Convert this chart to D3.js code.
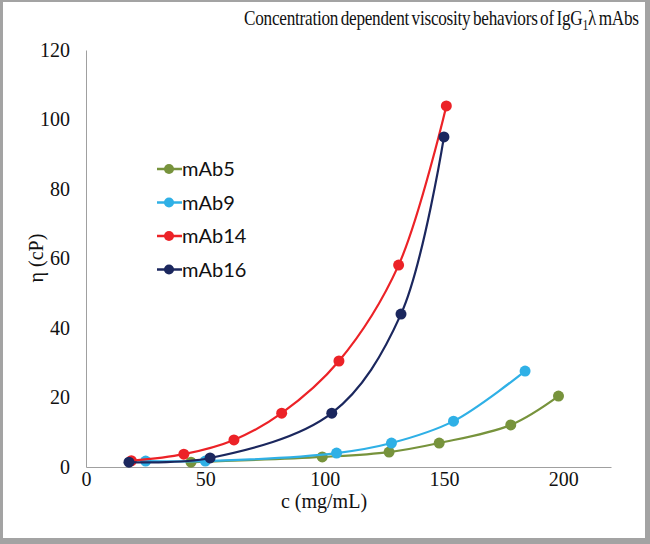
<!DOCTYPE html>
<html><head><meta charset="utf-8">
<script src="https://cdn.jsdelivr.net/npm/d3@7"></script>
<style>body{margin:0;background:#fff}svg{display:block}</style>
</head><body>
<script>
const seriesNames = ["mAb5","mAb9","mAb14","mAb16"];
const seriesColors = ["#77933C","#2FB0E6","#EC2227","#1B275E"];
const mAb5_c = [44, 99, 127, 148, 178, 198];
const mAb5_eta = [1.4, 2.9, 4.3, 6.9, 12.1, 20.4];
const mAb9_c = [25, 50, 105, 128, 154, 184];
const mAb9_eta = [1.7, 1.7, 4.0, 6.9, 13.2, 27.6];
const mAb14_c = [19, 41, 62, 82, 106, 131, 151];
const mAb14_eta = [1.8, 3.7, 7.8, 15.5, 30.5, 58.1, 103.9];
const mAb16_c = [18, 52, 103, 132, 150];
const mAb16_eta = [1.4, 2.6, 15.5, 44.0, 95.0];
const xTicks = [0, 50, 100, 150, 200];
const yTicks = [0, 20, 40, 60, 80, 100, 120];

const W = 650, H = 544;
const svg = d3.select("body").append("svg").attr("width", W).attr("height", H);
svg.append("rect").attr("x",0).attr("y",0).attr("width",W).attr("height",H).attr("fill","#a3a3a3");
svg.append("rect").attr("x",3).attr("y",2).attr("width",W-3-5).attr("height",H-2-6).attr("fill","#fff");

const x = d3.scaleLinear().domain([0, 220]).range([86, 611]);
const y = d3.scaleLinear().domain([0, 120]).range([467, 50]);

const serif = "'Liberation Serif','Times New Roman',serif";
// axes
const xAxis = svg.append("g").attr("transform", "translate(0,467)")
  .call(d3.axisBottom(x).tickValues(xTicks).tickSize(0).tickPadding(5));
const yAxis = svg.append("g").attr("transform", "translate(86,0)")
  .call(d3.axisLeft(y).tickValues(yTicks).tickSize(0).tickPadding(16));
[xAxis, yAxis].forEach(g => {
  g.select(".domain").attr("stroke", "#a0a0a0").attr("stroke-width", 1);
  g.selectAll("text").attr("font-family", serif).attr("font-size", 20).attr("fill", "#111");
});

// title
const title = svg.append("text").attr("transform", "translate(244,25) scale(1,1.2)").attr("font-family", serif)
  .attr("font-size", 19).attr("word-spacing", -1.5).attr("letter-spacing", -0.25).attr("fill","#111")
  .html('Concentration dependent viscosity behaviors of IgG<tspan font-size="13" dy="4">1</tspan><tspan dy="-4">λ mAbs</tspan>');
const tw = title.node().getComputedTextLength();
if (tw > 397) {
  const k = 397 / tw;
  title.attr("font-size", 19 * k);
  title.select("tspan").attr("font-size", 13 * k);
}
svg.append("text").attr("x", 324).attr("y", 508).attr("text-anchor","middle").attr("font-family", serif).attr("font-size", 20).attr("fill","#111")
  .text("c (mg/mL)");
svg.append("text").attr("transform", "translate(43,258) rotate(-90)").attr("text-anchor","middle").attr("font-family", serif).attr("font-size", 20).attr("fill","#111")
  .text("η (cP)");

const data = [
  [mAb5_c, mAb5_eta], [mAb9_c, mAb9_eta], [mAb14_c, mAb14_eta], [mAb16_c, mAb16_eta]
].map(([c, e], i) => ({ name: seriesNames[i], color: seriesColors[i], pts: c.map((v, j) => [v, e[j]]) }));

const line = d3.line().x(d => x(d[0])).y(d => y(d[1])).curve(d3.curveCatmullRom.alpha(0.5));
data.forEach(s => {
  svg.append("path").attr("d", line(s.pts)).attr("fill","none").attr("stroke", s.color).attr("stroke-width", 2.2);
  svg.append("g").selectAll("circle").data(s.pts).join("circle")
    .attr("cx", d => x(d[0])).attr("cy", d => y(d[1])).attr("r", 5.5).attr("fill", s.color);
});

// legend
const lg = svg.append("g");
data.forEach((s, i) => {
  const yy = 169 + i * 33.5;
  lg.append("line").attr("x1", 157).attr("x2", 182).attr("y1", yy).attr("y2", yy).attr("stroke", s.color).attr("stroke-width", 2.5);
  lg.append("circle").attr("cx", 169).attr("cy", yy).attr("r", 5).attr("fill", s.color);
  lg.append("text").attr("x", 182).attr("y", yy + 7).attr("font-family", "Lato, 'Open Sans', sans-serif").attr("font-size", 20).attr("fill", "#111").text(s.name);
});
</script>
</body></html>
